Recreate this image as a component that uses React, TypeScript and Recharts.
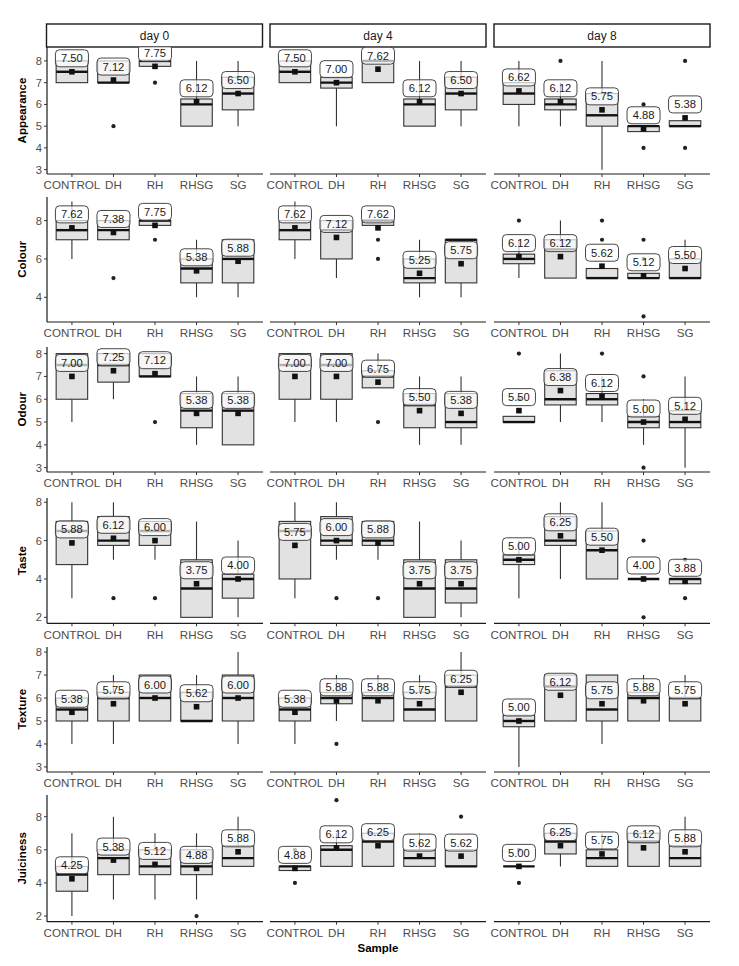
import React from 'react';
import { ComposedChart, Bar, Scatter, XAxis, YAxis } from 'recharts';

const samples = ['CONTROL', 'DH', 'RH', 'RHSG', 'SG'];
const days = ['day 0', 'day 4', 'day 8'];
const attributes = ['Appearance', 'Colour', 'Odour', 'Taste', 'Texture', 'Juiciness'];

// [low whisker, Q1, median, Q3, high whisker] per day, per sample
const appearanceBoxes = [
  [[7, 7, 7.5, 8, 8], [7, 7, 7, 8, 8], [7.75, 7.75, 8, 8, 8], [5, 5, 6, 6.25, 8], [5, 5.75, 6.5, 7.25, 8]],
  [[7, 7, 7.5, 8, 8], [5, 6.75, 7, 7.25, 7.25], [7, 7, 8, 8, 8], [5, 5, 6, 6.25, 8], [5, 5.75, 6.5, 7.25, 8]],
  [[5, 6, 6.5, 7, 8], [5, 5.75, 6, 6.25, 7], [3, 5, 5.5, 6.5, 8], [4.75, 4.75, 5, 5, 5], [5, 5, 5, 5.25, 5.25]],
];
const appearanceMeans = [
  [7.5, 7.12, 7.75, 6.12, 6.5],
  [7.5, 7.0, 7.62, 6.12, 6.5],
  [6.62, 6.12, 5.75, 4.88, 5.38],
];
const appearanceOutliers = [
  [[], [5], [7], [], []],
  [[], [], [], [], []],
  [[], [8], [], [6, 4], [8, 4]],
];

const colourBoxes = [
  [[6, 7, 7.5, 8, 9], [7, 7, 7.5, 8, 8], [7.75, 7.75, 8, 8, 8], [4, 4.75, 5.5, 6, 7], [4, 4.75, 6, 7, 7]],
  [[6, 7, 7.5, 8, 9], [5, 6, 7.5, 8, 8], [7.75, 7.75, 8, 8, 8], [4, 4.75, 5, 6, 7], [4, 4.75, 7, 7, 7]],
  [[5, 5.75, 6, 6.25, 7], [5, 5, 6.5, 7, 8], [5, 5, 5, 5.5, 5.5], [5, 5, 5, 5.25, 5.25], [5, 5, 5, 6, 7]],
];
const colourMeans = [
  [7.62, 7.38, 7.75, 5.38, 5.88],
  [7.62, 7.12, 7.62, 5.25, 5.75],
  [6.12, 6.12, 5.62, 5.12, 5.5],
];
const colourOutliers = [
  [[], [5], [7], [], []],
  [[], [], [7, 6], [], []],
  [[8], [], [7, 8], [3, 6, 7], []],
];

const odourBoxes = [
  [[5, 6, 7.5, 8, 8], [6, 6.75, 7.5, 8, 8], [7, 7, 7, 8, 8], [4, 4.75, 5.5, 6.25, 7], [4, 4, 5.5, 6.25, 7]],
  [[5, 6, 7.5, 8, 8], [5, 6, 7.5, 8, 8], [6.5, 6.5, 7, 7.25, 8], [4, 4.75, 5.75, 6.25, 7], [4, 4.75, 5, 6.25, 7]],
  [[5, 5, 5, 5.25, 5.25], [5, 5.75, 6, 7.25, 8], [5, 5.75, 6, 6.25, 7], [4, 4.75, 5, 5.25, 6], [3, 4.75, 5, 5.5, 7]],
];
const odourMeans = [
  [7.0, 7.25, 7.12, 5.38, 5.38],
  [7.0, 7.0, 6.75, 5.5, 5.38],
  [5.5, 6.38, 6.12, 5.0, 5.12],
];
const odourOutliers = [
  [[], [], [5], [], []],
  [[], [], [5], [], []],
  [[6, 8], [], [8], [7, 3], []],
];

const tasteBoxes = [
  [[3, 4.75, 6.5, 7, 8], [5, 5.75, 6, 7.25, 8], [5, 5.75, 6.5, 7, 7], [2, 2, 3.5, 5, 7], [2, 3, 4, 4.25, 6]],
  [[3, 4, 6.5, 7, 8], [5, 5.75, 6, 7.25, 8], [5, 5.75, 6, 7, 7], [2, 2, 3.5, 5, 7], [2, 2.75, 3.5, 5, 6]],
  [[3, 4.75, 5, 5.25, 6], [4, 5.75, 6, 7.25, 8], [4, 4, 5.5, 6.5, 8], [4, 4, 4, 4, 4], [3.75, 3.75, 4, 4, 4]],
];
const tasteMeans = [
  [5.88, 6.12, 6.0, 3.75, 4.0],
  [5.75, 6.0, 5.88, 3.75, 3.75],
  [5.0, 6.25, 5.5, 4.0, 3.88],
];
const tasteOutliers = [
  [[], [3], [3], [], []],
  [[], [3], [3], [], []],
  [[], [], [], [6, 2], [3, 5]],
];

const textureBoxes = [
  [[4, 5, 5.5, 6, 6], [4, 5, 6, 6.25, 7], [5, 5, 6, 7, 7], [5, 5, 5, 6.25, 7], [4, 5, 6, 7, 8]],
  [[4, 5, 5.5, 6, 6], [5, 5.75, 6, 6.25, 7], [5, 5, 6, 6.25, 7], [5, 5, 5.5, 6.25, 7], [5, 5, 6.5, 7, 8]],
  [[3, 4.75, 5, 5.25, 5.25], [5, 5, 6.5, 7, 7], [4, 5, 5.5, 7, 7], [5, 5, 6, 6.25, 7], [5, 5, 6, 6, 7]],
];
const textureMeans = [
  [5.38, 5.75, 6.0, 5.62, 6.0],
  [5.38, 5.88, 5.88, 5.75, 6.25],
  [5.0, 6.12, 5.75, 5.88, 5.75],
];
const textureOutliers = [
  [[], [], [], [], []],
  [[], [4], [], [], []],
  [[], [], [], [], []],
];

const juicinessBoxes = [
  [[2, 3.5, 4.5, 5, 7], [3, 4.5, 5.5, 6, 8], [3, 4.5, 5, 6, 7], [3, 4.5, 5, 6, 7], [5, 5, 5.5, 6.25, 8]],
  [[4.75, 4.75, 5, 5, 5], [5, 5, 6, 6.25, 7], [5, 5, 6.5, 7, 7], [5, 5, 5.5, 6, 7], [5, 5, 5, 6, 6]],
  [[5, 5, 5, 5, 5], [5, 5.75, 6.5, 7, 7], [5, 5, 5.5, 6, 7], [5, 5, 6.5, 7, 7], [5, 5, 5.5, 6.25, 8]],
];
const juicinessMeans = [
  [4.25, 5.38, 5.12, 4.88, 5.88],
  [4.88, 6.12, 6.25, 5.62, 5.62],
  [5.0, 6.25, 5.75, 6.12, 5.88],
];
const juicinessOutliers = [
  [[], [], [], [2], []],
  [[4, 6], [9], [], [], [8]],
  [[4, 6], [], [], [], []],
];

const yDomains = [
  [2.8, 8.64],
  [2.71, 9.23],
  [2.81, 8.29],
  [1.69, 8.22],
  [2.78, 8.22],
  [1.66, 9.31],
];
const yTicks = [
  [3, 4, 5, 6, 7, 8],
  [4, 6, 8],
  [3, 4, 5, 6, 7, 8],
  [2, 4, 6, 8],
  [3, 4, 5, 6, 7, 8],
  [2, 4, 6, 8],
];

const allBoxes = [appearanceBoxes, colourBoxes, odourBoxes, tasteBoxes, textureBoxes, juicinessBoxes];
const allMeans = [appearanceMeans, colourMeans, odourMeans, tasteMeans, textureMeans, juicinessMeans];
const allOutliers = [appearanceOutliers, colourOutliers, odourOutliers, tasteOutliers, textureOutliers, juicinessOutliers];

// layout
const colLefts = [46.5, 270, 494];
const plotW = 216;
const rowTops = [47, 196.7, 346.7, 498, 646.7, 795];
const rowBottoms = [174, 321.7, 471.7, 623.3, 771.7, 921.7];
const Y_AXIS_W = 40;
const X_AXIS_H = 26;
const TOP_PAD = 10;
const BOX_W = 31.5;

const FONT = '"Liberation Sans", Arial, Helvetica, sans-serif';

function BoxShape(props: any) {
  const { x, y, width, height, payload } = props;
  if (x == null || y == null || !payload) return null;
  const { low, q1, q3, high } = payload;
  const span = high - low;
  const py = (v: number) => (span > 0 ? y + ((high - v) / span) * height : y);
  const cx = x + width / 2;
  const top = py(q3);
  const bot = py(q1);
  return (
    <g>
      <line x1={cx} x2={cx} y1={py(high)} y2={py(low)} stroke="#333" strokeWidth={1.1} />
      <rect x={x} y={top} width={width} height={Math.max(bot - top, 0)} fill="#e2e2e2" stroke="#333" strokeWidth={1.1} />
    </g>
  );
}

function MedianShape(p: any) {
  if (p.cx == null || p.cy == null) return null;
  return <line x1={p.cx - BOX_W / 2} x2={p.cx + BOX_W / 2} y1={p.cy} y2={p.cy} stroke="#111" strokeWidth={2.4} />;
}

function MeanShape(p: any) {
  if (p.cx == null || p.cy == null) return null;
  return <rect x={p.cx - 2.8} y={p.cy - 2.8} width={5.6} height={5.6} fill="#111" />;
}

function OutlierShape(p: any) {
  if (p.cx == null || p.cy == null) return null;
  return <circle cx={p.cx} cy={p.cy} r={2.1} fill="#222" />;
}

function LabelShape(p: any) {
  if (p.cx == null || p.cy == null) return null;
  const cy = p.cy - 13.5;
  return (
    <g>
      <rect x={p.cx - 16.5} y={cy - 8.5} width={33} height={17} rx={4} ry={4} fill="#ffffff" fillOpacity={0.68} stroke="#333" strokeWidth={0.9} />
      <text x={p.cx} y={cy + 4} textAnchor="middle" fontSize={11.2} fill="#1a1a1a" fontFamily={FONT}>
        {Number(p.payload.mean).toFixed(2)}
      </text>
    </g>
  );
}

function Panel({ r, d }: { r: number; d: number }) {
  const boxes = allBoxes[r][d];
  const means = allMeans[r][d];
  const outs = allOutliers[r][d];
  const rows = samples.map((s, i) => {
    const [low, q1, med, q3, high] = boxes[i];
    return { x: i + 1, name: s, range: [low, high], low, q1, med, q3, high, mean: means[i] };
  });
  const outlierPts: { x: number; y: number }[] = [];
  outs.forEach((arr, i) => arr.forEach((v) => outlierPts.push({ x: i + 1, y: v })));
  const plotH = rowBottoms[r] - rowTops[r];
  return (
    <div style={{ position: 'absolute', left: colLefts[d] - Y_AXIS_W, top: rowTops[r] - TOP_PAD }}>
      <ComposedChart
        width={plotW + Y_AXIS_W + 4}
        height={plotH + X_AXIS_H + TOP_PAD}
        data={rows}
        margin={{ top: TOP_PAD, right: 4, bottom: 0, left: d === 0 ? 0 : Y_AXIS_W }}
      >
        <XAxis
          type="number"
          dataKey="x"
          domain={[0.4, 5.6]}
          ticks={[1, 2, 3, 4, 5]}
          tickFormatter={(v: number) => samples[v - 1]}
          interval={0}
          allowDataOverflow
          height={X_AXIS_H}
          tickSize={3}
          tickMargin={4}
          axisLine={{ stroke: '#1a1a1a', strokeWidth: 1.2 }}
          tickLine={{ stroke: '#333' }}
          tick={{ fill: '#4d4d4d', fontSize: 11.6, fontFamily: FONT }}
        />
        <YAxis
          type="number"
          domain={yDomains[r]}
          ticks={yTicks[r]}
          allowDataOverflow
          hide={d !== 0}
          width={Y_AXIS_W}
          tickSize={3}
          tickMargin={2}
          interval={0}
          axisLine={{ stroke: '#1a1a1a', strokeWidth: 1.2 }}
          tickLine={{ stroke: '#333' }}
          tick={{ fill: '#4d4d4d', fontSize: 11.2, fontFamily: FONT }}
        />
        <Bar dataKey="range" barSize={BOX_W} shape={BoxShape} isAnimationActive={false} />
        <Scatter dataKey="med" shape={MedianShape} isAnimationActive={false} />
        <Scatter data={outlierPts} dataKey="y" shape={OutlierShape} isAnimationActive={false} />
        <Scatter dataKey="mean" shape={MeanShape} isAnimationActive={false} />
        <Scatter dataKey="mean" shape={LabelShape} isAnimationActive={false} />
      </ComposedChart>
    </div>
  );
}

export default function App() {
  return (
    <div style={{ position: 'absolute', left: 0, top: 0, width: 739, height: 966, background: '#ffffff', fontFamily: FONT }}>
      <svg width={739} height={966} style={{ position: 'absolute', left: 0, top: 0 }}>
        {days.map((day, d) => (
          <g key={day}>
            <rect x={colLefts[d]} y={24} width={plotW} height={23} fill="#ffffff" stroke="#1a1a1a" strokeWidth={1.4} />
            <text x={colLefts[d] + plotW / 2} y={40} textAnchor="middle" fontSize={12} fill="#1a1a1a" fontFamily={FONT}>
              {day}
            </text>
          </g>
        ))}
        {attributes.map((a, r) => {
          const cy = (rowTops[r] + rowBottoms[r]) / 2;
          return (
            <text key={a} x={0} y={0} transform={`translate(26, ${cy}) rotate(-90)`} textAnchor="middle" fontSize={11.5} fontWeight="bold" fill="#000" fontFamily={FONT}>
              {a}
            </text>
          );
        })}
        <text x={378} y={952} textAnchor="middle" fontSize={11.5} fontWeight="bold" fill="#000" fontFamily={FONT}>
          Sample
        </text>
      </svg>
      {attributes.map((a, r) => days.map((day, d) => <Panel key={a + day} r={r} d={d} />))}
    </div>
  );
}
